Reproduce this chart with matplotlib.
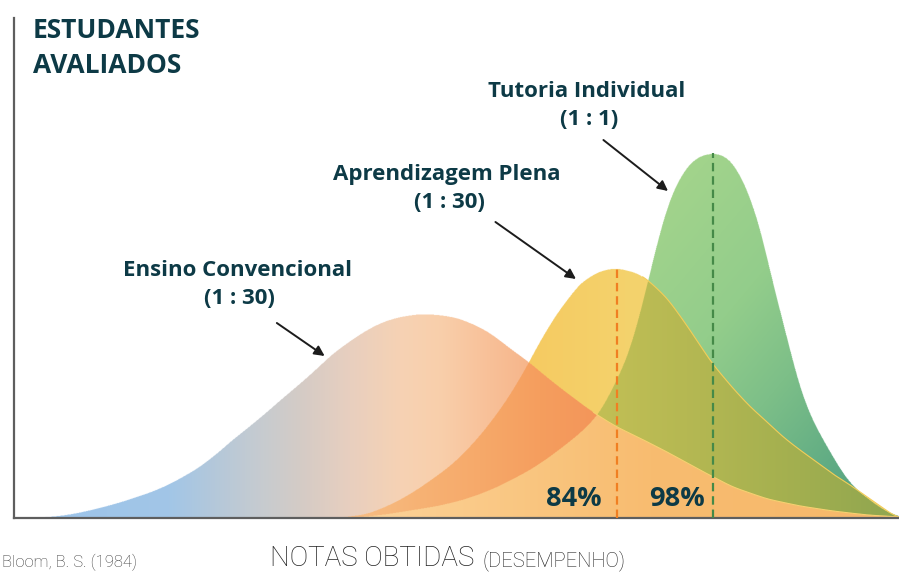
import numpy as np
import matplotlib
matplotlib.use("Agg")
import matplotlib.pyplot as plt
from matplotlib.colors import to_rgb

# ---------------- data (nota 0-10, frequência relativa) ----------------
ensino_x = [0.21, 0.41, 0.60, 0.78, 0.97, 1.16, 1.34, 1.54, 1.73, 1.91,
            2.10, 2.29, 2.47, 2.67, 2.86, 3.04, 3.23, 3.42, 3.60, 3.80,
            3.99, 4.17, 4.36, 4.59, 4.81, 5.01, 5.21, 5.38, 5.60, 5.83,
            6.06, 6.25, 6.43, 6.59, 6.81, 7.07, 7.38, 7.75, 8.12, 8.51,
            8.88, 9.25, 9.64, 10.0]
ensino_y = [0.0, 0.2, 0.6, 1.2, 2.0, 2.9, 3.9, 5.1, 6.5, 8.2,
            10.2, 12.8, 15.6, 18.4, 21.2, 24.0, 26.8, 29.8, 32.8, 35.4,
            37.6, 39.2, 40.2, 40.8, 40.6, 40.0, 38.6, 37.0, 34.0, 31.0,
            27.6, 25.0, 22.6, 20.6, 18.2, 16.0, 13.2, 9.6, 6.2, 3.8,
            2.4, 1.4, 0.6, 0.2]

plena_x = [3.68, 3.99, 4.17, 4.36, 4.55, 4.73, 4.93, 5.12, 5.30, 5.49,
           5.64, 5.81, 5.94, 6.14, 6.40, 6.62, 6.81, 7.04, 7.15, 7.38,
           7.60, 7.75, 7.90, 7.98, 8.12, 8.32, 8.51, 8.69, 8.88, 9.07,
           9.25, 9.45, 9.64, 9.82, 9.93, 10.0]
plena_y = [0.0, 0.8, 2.0, 3.6, 5.6, 7.8, 10.4, 13.6, 17.2, 21.6,
           25.6, 30.8, 35.2, 41.0, 47.0, 49.4, 50.0, 49.0, 47.8, 44.0,
           38.6, 34.6, 30.6, 29.0, 26.0, 22.2, 19.2, 16.2, 13.6, 11.2,
           8.8, 6.6, 4.2, 2.0, 0.6, 0.0]

tutoria_x = [3.68, 3.94, 4.23, 4.51, 4.79, 5.07, 5.27, 5.46, 5.64, 5.83,
             6.02, 6.20, 6.40, 6.59, 6.70, 6.81, 6.93, 7.07, 7.19, 7.30,
             7.41, 7.53, 7.64, 7.75, 7.90, 8.01, 8.12, 8.28, 8.43, 8.54,
             8.66, 8.77, 8.88, 9.02, 9.19, 9.37, 9.50, 9.64, 9.79, 9.90,
             10.0]
tutoria_y = [0.0, 0.2, 0.8, 1.6, 2.4, 3.6, 4.8, 6.2, 7.8, 9.6,
             11.8, 14.2, 17.0, 20.4, 23.6, 27.6, 32.0, 40.4, 49.2, 57.2,
             63.8, 68.2, 71.0, 72.4, 73.0, 72.6, 71.2, 66.0, 58.2, 49.6,
             41.2, 33.6, 26.0, 19.6, 14.2, 8.8, 6.0, 4.0, 2.0, 1.0,
             0.2]

group_names = ["Ensino Convencional", "Aprendizagem Plena", "Tutoria Individual"]
group_ratios = ["(1 : 30)", "(1 : 30)", "(1 : 1)"]
percent_labels = ["84%", "98%"]

TEXT = "#0d3a46"
FONT = "Open Sans"

# ---------------- figure ----------------
W, H = 899, 572
fig = plt.figure(figsize=(W / 100, H / 100), dpi=100)
ax = fig.add_axes([14 / W, 54 / H, 885 / W, 500 / H])

nx, ny = 1770, 1000
xs = (np.arange(nx) + 0.5) / nx * 10
ys = (np.arange(ny) + 0.5) / ny * 100


def smooth_curve(xv, yv, sigma=11):
    """Piecewise-linear curve through the read points, lightly smoothed for drawing."""
    d = np.interp(xs, xv, yv, left=0, right=0)
    k = np.arange(-3 * sigma, 3 * sigma + 1)
    w = np.exp(-0.5 * (k / sigma) ** 2)
    w /= w.sum()
    pad = np.pad(d, 3 * sigma, mode="edge")
    return np.convolve(pad, w, mode="valid")


O = smooth_curve(ensino_x, ensino_y)
Yc = smooth_curve(plena_x, plena_y)
G = smooth_curve(tutoria_x, tutoria_y)
YY = ys[:, None]
inO, inY, inG = YY < O, YY < Yc, YY < G


def hgrad(stops):
    pos = [s[0] for s in stops]
    cols = np.array([to_rgb(s[1]) for s in stops])
    return np.stack([np.interp(xs, pos, cols[:, k]) for k in range(3)], axis=-1)


peach = hgrad([(0.35, "#9cc4ea"), (1.76, "#a2c6e7"), (2.27, "#b4c8da"),
               (2.78, "#c6cbd0"), (3.23, "#d4cbc6"), (3.80, "#e8cfbf"),
               (4.36, "#f6d2b4"), (4.81, "#f9cfab"), (5.38, "#f8c098"),
               (5.83, "#f6b58a"), (6.62, "#f4a878")])
deep_orange = hgrad([(3.80, "#f7be85"), (4.59, "#f6b274"), (5.27, "#f6a96a"),
                     (5.94, "#f59e5e"), (6.62, "#f3955a")])
light_orange = hgrad([(3.80, "#fbd39a"), (4.93, "#fbcc8c"), (6.06, "#f9c47d"),
                      (7.19, "#f8bc70"), (10.0, "#f7b86a")])
yellow = hgrad([(5.5, "#f6c95f"), (6.2, "#f5cd65"), (6.9, "#f4d26c"), (7.6, "#f3d570")])
olive = hgrad([(6.62, "#c2bf55"), (7.75, "#b3b752"), (8.88, "#a2af4f"), (9.8, "#92a750")])

xf = np.clip((xs[None, :] - 7.07) / (9.9 - 7.07), 0, 1)
yf = YY / 73.0
t = np.clip(0.55 * (1 - yf) + 0.45 * xf, 0, 1)
gstops_t = [0.0, 0.4, 0.6, 0.8, 1.0]
gstops_c = np.array([to_rgb(c) for c in ["#a8d68b", "#93cd8b", "#7dbf88", "#62ad84", "#4c9a80"]])
green = np.stack([np.interp(t, gstops_t, gstops_c[:, k]) for k in range(3)], axis=-1)

# transparent pixels carry the colour of the top layer below them (no dark fringes)
top = np.argmax(np.stack([O, Yc, G]), axis=0)
base = np.where((top == 0)[None, :, None], peach[None, :, :],
                np.where((top == 1)[None, :, None], yellow[None, :, :], green))
rgba = np.zeros((ny, nx, 4))
rgba[..., :3] = base


def paint(mask, colors):
    c = np.broadcast_to(colors, (ny, nx, 3))
    rgb = rgba[..., :3]
    rgb[mask] = c[mask]
    rgba[..., 3][mask] = 1.0


paint(inO & ~inY & ~inG, peach)
paint(inO & inY & ~inG, deep_orange)
paint(inO & inG & ~inY, deep_orange)
paint(inO & inY & inG, light_orange)
paint(~inO & inY & ~inG, yellow)
paint(~inO & inY & inG, olive)
paint(~inO & ~inY & inG, green)

ax.imshow(rgba, extent=(0, 10, 0, 100), origin="lower", aspect="auto",
          interpolation="antialiased", zorder=1)

# thin light outlines on the right-hand tails
m = xs >= 7.1
ax.plot(xs[m], Yc[m], color="#f3cd58", lw=0.8, zorder=2)
m = xs >= 6.55
ax.plot(xs[m], O[m], color="#f7d070", lw=0.8, zorder=2)

# dashed mean lines
ip = int(np.argmax(plena_y)); it = int(np.argmax(tutoria_y))
ax.plot([plena_x[ip]] * 2, [0, plena_y[ip]], color="#f07f22", lw=1.6,
        dashes=(3.8, 2.2), zorder=3)
ax.plot([tutoria_x[it]] * 2, [0, tutoria_y[it]], color="#458a48", lw=1.6,
        dashes=(3.8, 2.2), zorder=3)

ax.set_xlim(0, 10)
ax.set_ylim(0, 100)
ax.set_xticks([]); ax.set_yticks([])
for s in ["top", "right"]:
    ax.spines[s].set_visible(False)
for s in ["left", "bottom"]:
    ax.spines[s].set_color("#5e5e5e")
    ax.spines[s].set_linewidth(1.6)

# group labels
label_pos = [(2.52, 48.4, 42.8), (4.89, 67.6, 62.0), (6.47, 84.2, 78.6)]
arrows = [((2.97, 39.0), (3.51, 32.4)),
          ((5.44, 59.2), (6.35, 47.8)),
          ((6.66, 75.6), (7.39, 65.4))]
for name, ratio, (lx, ly1, ly2), (a0, a1) in zip(group_names, group_ratios, label_pos, arrows):
    ax.text(lx, ly1, name, ha="center", va="baseline", fontsize=16,
            fontweight="bold", color=TEXT, family=FONT, zorder=5)
    ax.text(lx + 0.03, ly2, ratio, ha="center", va="baseline", fontsize=16,
            fontweight="bold", color=TEXT, family=FONT, zorder=5)
    ax.annotate("", xy=a1, xytext=a0,
                arrowprops=dict(arrowstyle="-|>", color="#1c1c1c", lw=1.4,
                                mutation_scale=15, shrinkA=0, shrinkB=0), zorder=5)

for lab, lx in zip(percent_labels, [6.33, 7.49]):
    ax.text(lx, 2.4, lab, ha="center", va="baseline", fontsize=19.5,
            fontweight="bold", color=TEXT, family=FONT, zorder=5)

# title
fig.text(33 / W, 1 - 38 / H, "ESTUDANTES", ha="left", va="baseline", fontsize=19,
         fontweight="bold", color=TEXT, family=FONT)
fig.text(33 / W, 1 - 73 / H, "AVALIADOS", ha="left", va="baseline", fontsize=19,
         fontweight="bold", color=TEXT, family=FONT)

# x label
fig.text(474 / W, 1 - 566 / H, "NOTAS OBTIDAS", ha="right", va="baseline",
         fontsize=20, fontweight="light", color="#222222", family="Roboto")
fig.text(482 / W, 1 - 566 / H, "(DESEMPENHO)", ha="left", va="baseline",
         fontsize=14.5, fontweight="light", color="#222222", family="Roboto")

# source
fig.text(2 / W, 1 - 567 / H, "Bloom, B. S. (1984)", ha="left", va="baseline",
         fontsize=12, fontweight="light", color="#3a3a3a", family="Roboto")

fig.savefig("out.png", dpi=100)
